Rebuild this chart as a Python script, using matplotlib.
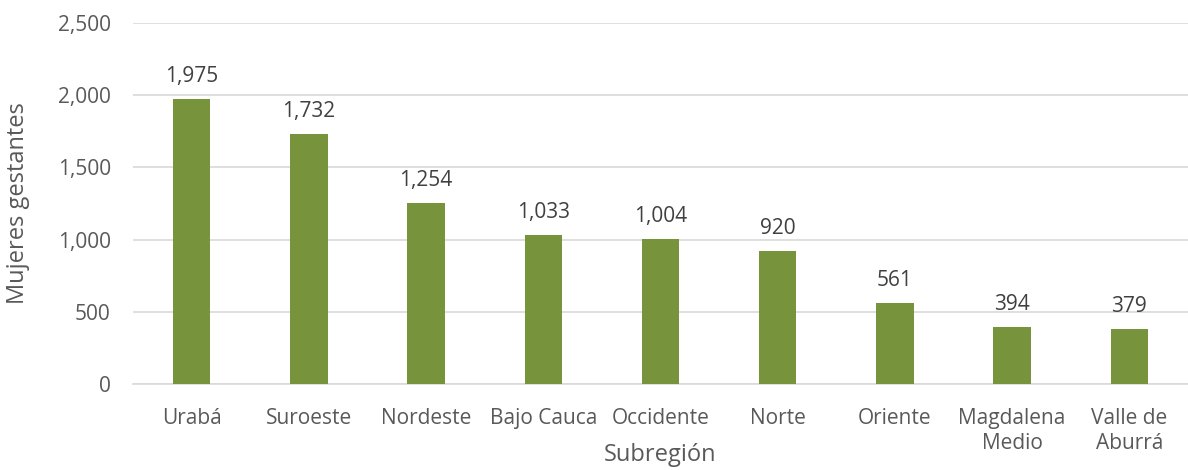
import matplotlib
matplotlib.use("Agg")
import matplotlib.pyplot as plt
from matplotlib.ticker import FuncFormatter

categories = ["Urabá", "Suroeste", "Nordeste", "Bajo Cauca", "Occidente", "Norte",
              "Oriente", "Magdalena\nMedio", "Valle de\nAburrá"]
values = [1975, 1732, 1254, 1033, 1004, 920, 561, 394, 379]
yticks = [0, 500, 1000, 1500, 2000, 2500]

plt.rcParams['font.family'] = ['Open Sans', 'DejaVu Sans']
txt = '#595959'

fig = plt.figure(figsize=(11.88, 4.70), dpi=100)
ax = fig.add_axes([0.112, 0.183, 0.888, 0.768])

x = list(range(len(categories)))
ax.bar(x, values, width=0.32, color='#77933C', zorder=3)
for xi, v in zip(x, values):
    ax.text(xi, v + 85, f"{v:,}", ha='center', va='bottom', fontsize=15, color='#404040')

ax.set_xlim(-0.5, len(categories) - 0.5)
ax.set_ylim(0, 2500)
ax.set_yticks(yticks)
ax.yaxis.set_major_formatter(FuncFormatter(lambda v, p: f"{int(v):,}"))
ax.set_xticks(x)
ax.set_xticklabels(categories, fontsize=15, color=txt, linespacing=1.3)
ax.tick_params(axis='y', labelsize=15, colors=txt, length=0, pad=16)
ax.tick_params(axis='x', length=0, pad=17)
ax.grid(axis='y', color='#D9D9D9', linewidth=1.2, zorder=0)
for s in ['top', 'right', 'left']:
    ax.spines[s].set_visible(False)
ax.spines['bottom'].set_color('#D9D9D9')
ax.spines['bottom'].set_linewidth(1.2)

ax.set_ylabel("Mujeres gestantes", fontsize=17, color=txt, labelpad=20)
ax.set_xlabel("Subregión", fontsize=17, color=txt, labelpad=-8)

fig.savefig("out.png", dpi=100)
